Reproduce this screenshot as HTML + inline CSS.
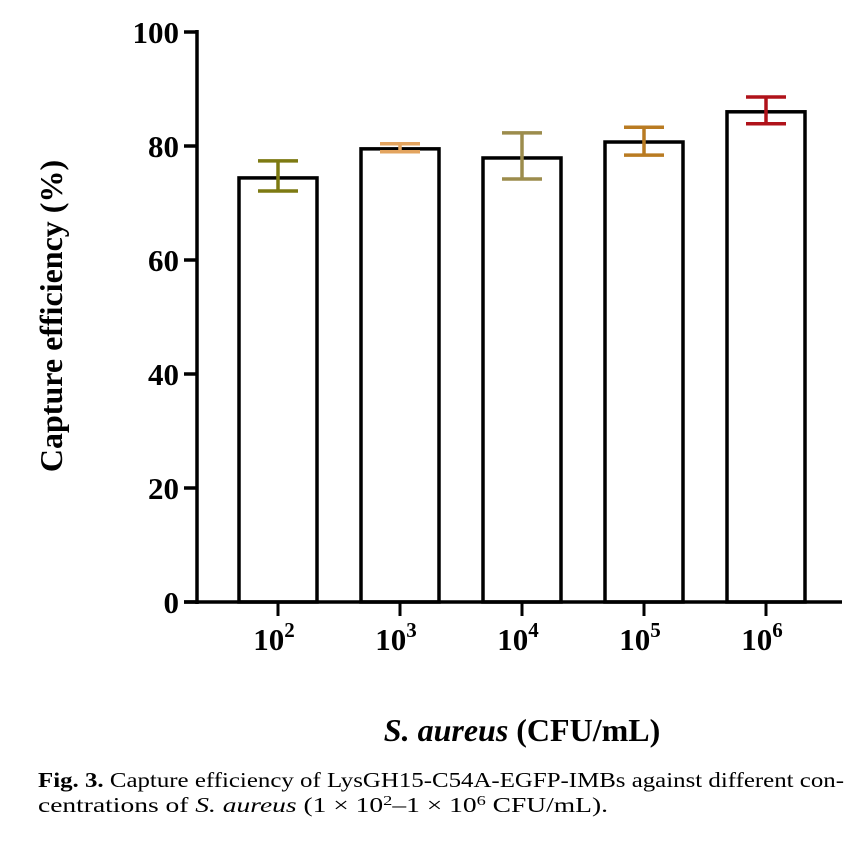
<!DOCTYPE html>
<html><head><meta charset="utf-8"><style>
body{margin:0;background:#fff;}
svg{display:block;}
.t{font-family:"Liberation Serif",serif;font-weight:bold;}
</style></head><body>
<svg id="chart" width="865" height="841" xmlns="http://www.w3.org/2000/svg">
<g id="bars"></g>
<g id="yaxis"></g>
<g id="xaxis"></g>
<text class="t" font-size="32" transform="translate(62,316) rotate(-90)" text-anchor="middle">Capture efficiency (%)</text>
<text class="t" font-size="32" x="522" y="741" text-anchor="middle"><tspan font-style="italic">S. aureus</tspan> (CFU/mL)</text>
<text font-family="Liberation Serif,serif" font-size="21" x="38" y="787" textLength="806" lengthAdjust="spacingAndGlyphs"><tspan font-weight="bold">Fig. 3.</tspan> Capture efficiency of LysGH15-C54A-EGFP-IMBs against different con-</text>
<text font-family="Liberation Serif,serif" font-size="21" x="38" y="812" textLength="570" lengthAdjust="spacingAndGlyphs">centrations of <tspan font-style="italic">S. aureus</tspan> (1 × 10<tspan dy="-7" font-size="14">2</tspan><tspan dy="7">–1 × 10</tspan><tspan dy="-7" font-size="14">6</tspan><tspan dy="7"> CFU/mL).</tspan></text>
</svg>
<script>
const categories=["2","3","4","5","6"];
const means=[74.4,79.5,77.9,80.7,86.0];
const errLow=[72.1,79.0,74.2,78.4,83.9];
const errHigh=[77.4,80.4,82.3,83.3,88.6];
const errColors=["#7d7a12","#e3a45f","#9c8c4c","#b97b22","#b0121a"];
const yTicks=[0,20,40,60,80,100];
const NS="http://www.w3.org/2000/svg";
const y=v=>602-v*5.7;
const x=i=>278+i*122;
function mk(tag,attrs,parent){const e=document.createElementNS(NS,tag);for(const k in attrs)e.setAttribute(k,attrs[k]);parent.appendChild(e);return e;}
const bars=document.getElementById('bars'),ya=document.getElementById('yaxis'),xa=document.getElementById('xaxis');
categories.forEach((c,i)=>{
  const cx=x(i);
  const r=mk('rect',{x:cx-39,y:y(means[i]),width:78,height:y(0)-y(means[i]),fill:'#fff',stroke:'#000','stroke-width':3.5},bars);
  
  
  const g=mk('g',{stroke:errColors[i],'stroke-width':3.5,fill:'none'},bars);
  
  
  mk('line',{x1:cx,x2:cx,y1:y(errLow[i]),y2:y(errHigh[i])},g);
  mk('line',{x1:cx-20,x2:cx+20,y1:y(errLow[i]),y2:y(errLow[i])},g);
  mk('line',{x1:cx-20,x2:cx+20,y1:y(errHigh[i]),y2:y(errHigh[i])},g);
  const tk=mk('line',{x1:cx,x2:cx,y1:y(0),y2:y(0)+14,stroke:'#000','stroke-width':3},xa);
  
  
  const t=mk('text',{x:cx-4,y:650,'text-anchor':'middle','class':'t','font-size':31},xa);
  
  
  t.textContent='10';
  const s=mk('tspan',{dy:-13,'font-size':21},t);s.textContent=c;
});
mk('line',{x1:197,x2:197,y1:y(100)-2,y2:y(0)+2,stroke:'#000','stroke-width':3.5},ya);
mk('line',{x1:184,x2:842,y1:y(0),y2:y(0),stroke:'#000','stroke-width':3.5},xa);
yTicks.forEach(v=>{
  const l=mk('line',{x1:184,x2:197,y1:y(v),y2:y(v),stroke:'#000','stroke-width':3.5},ya);
  
  
  const t=mk('text',{x:179,y:y(v)+11,'text-anchor':'end','class':'t','font-size':31},ya);
  
  
  t.textContent=v;
});
</script>
</body></html>
